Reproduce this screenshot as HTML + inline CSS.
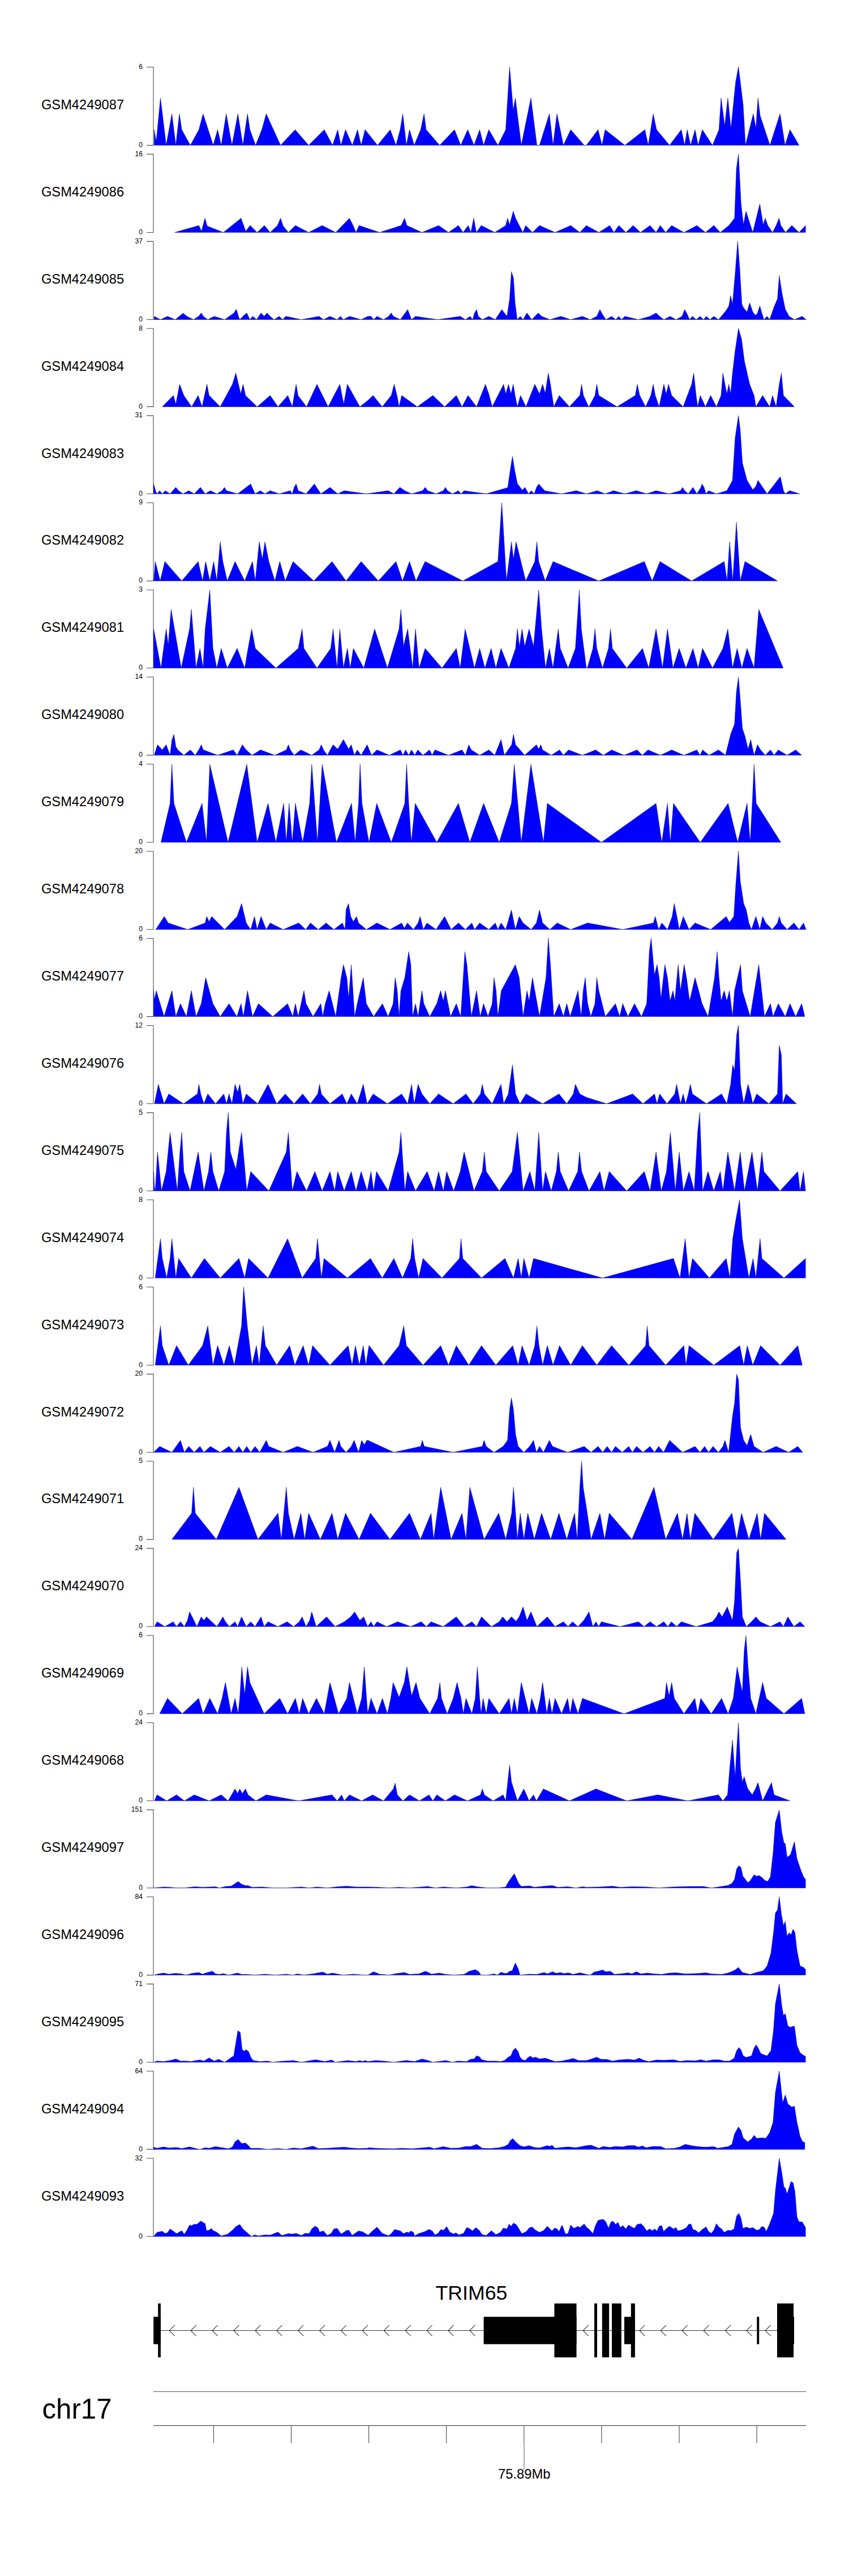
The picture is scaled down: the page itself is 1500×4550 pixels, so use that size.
<!DOCTYPE html><html><head><meta charset="utf-8"><style>html,body{margin:0;padding:0;background:#fff;}svg{display:block;}text{font-family:"Liberation Sans",sans-serif;}</style></head><body>
<svg width="1500" height="4550" viewBox="0 0 1500 4550">
<rect width="1500" height="4550" fill="#fff"/>
<text x="146" y="192.9" font-size="23.7" text-anchor="middle" fill="#000">GSM4249087</text>
<path d="M259.1 118.5 H271 V256.6 H259.1" fill="none" stroke="#4a4a4a" stroke-width="1.1"/>
<text x="252" y="121.8" font-size="12.2" text-anchor="end" fill="#000">6</text>
<text x="252" y="259.9" font-size="12.2" text-anchor="end" fill="#000">0</text>
<path d="M272.4 256.6 L272.4 229.1 L276.1 249.8 L283.5 173.1 L293.6 256.6 L303.7 201.1 L310.6 256.6 L317 201.1 L321.1 229.1 L336.3 256.6 L351.4 229.1 L358.8 201.1 L376.7 256.6 L384.5 229.1 L390.9 256.6 L399.7 201.1 L409.8 256.6 L420.3 201.1 L429.1 256.6 L437.3 201.1 L441.5 229.1 L451.6 256.6 L462.6 229.1 L470.4 201.1 L495.7 256.6 L521.4 229.1 L545.3 256.6 L572.9 229.1 L587.6 256.6 L596.7 229.1 L602.3 256.6 L610.5 229.1 L622.5 256.6 L631.7 229.1 L638.1 256.6 L645 229.1 L667 256.6 L689.5 229.1 L699.6 256.6 L707 229.1 L711.6 201.1 L718 256.6 L723.5 229.1 L731.8 256.6 L743.3 229.1 L749.2 201.1 L752.9 229.1 L776.8 256.6 L803 229.1 L814 256.6 L826.4 229.1 L837.4 256.6 L847.5 229.1 L854.4 256.6 L863.6 229.1 L879.7 256.6 L893.5 229.1 L900.4 118 L906.8 194.7 L910.5 173.1 L921 256.6 L938 173.1 L948.6 256.6 L953.2 256.6 L970.6 201.1 L977.1 256.6 L984 201.1 L995.4 256.6 L1008.3 229.1 L1032.2 256.6 L1036 256.6 L1056.7 229.1 L1063.6 256.6 L1069.1 229.1 L1104 256.6 L1139.4 229.1 L1145.3 256.6 L1154.1 201.1 L1160 229.1 L1183 256.6 L1203.7 229.1 L1209.6 256.6 L1214.2 229.1 L1220.2 256.6 L1228 229.1 L1233.5 256.6 L1240.9 229.1 L1258.8 256.6 L1270.3 229.1 L1274 173.1 L1280.4 222.2 L1285.9 173.1 L1291.4 226.8 L1299.7 145.1 L1304.7 118 L1313 185.5 L1317.1 256.6 L1330.9 201.1 L1335.5 226.8 L1339.2 173.1 L1342.9 203.9 L1360.3 256.6 L1378.2 201.1 L1387 256.6 L1395.7 229.1 L1411.8 256.6 L1411.8 256.6 Z" fill="#0000ff" stroke="#000090" stroke-width="0.5" stroke-linejoin="miter"/>
<text x="146" y="346.9" font-size="23.7" text-anchor="middle" fill="#000">GSM4249086</text>
<path d="M259.1 272.4 H271 V410.5 H259.1" fill="none" stroke="#4a4a4a" stroke-width="1.1"/>
<text x="252" y="275.8" font-size="12.2" text-anchor="end" fill="#000">16</text>
<text x="252" y="413.8" font-size="12.2" text-anchor="end" fill="#000">0</text>
<path d="M308.7 410.5 L308.7 410.5 L351.4 398.3 L356 408.4 L362 385.4 L366.1 399.2 L394.6 410.5 L425.9 385.4 L434.1 408.4 L441.9 398.3 L454.3 410.5 L467.2 398.3 L477.3 410.5 L490.2 398.3 L495.7 385.4 L500.3 399.2 L509.5 410.5 L521.9 398.3 L545.3 410.5 L569.2 398.3 L593.1 410.5 L617.4 385.4 L624.3 399.2 L628.9 410.5 L634.4 398.3 L670.7 410.5 L708.8 398.3 L714.8 385.4 L718.9 398.3 L745.5 410.5 L774.9 398.3 L792.4 410.5 L809.9 398.3 L818.1 410.5 L827.3 398.3 L831.9 410.5 L837 385.4 L841.6 410.5 L850.3 398.3 L874.2 410.5 L893.5 398.3 L896.7 385.4 L900.4 396.9 L906.8 373 L910.9 385.4 L923.8 410.5 L928.8 398.3 L940.8 410.5 L953.2 398.3 L980.7 410.5 L1008.3 398.3 L1024.4 410.5 L1036 398.3 L1058 410.5 L1077.3 398.3 L1084.7 410.5 L1093.4 398.3 L1105.8 410.5 L1118.7 398.3 L1131.5 410.5 L1148.5 398.3 L1159.1 410.5 L1166.5 398.3 L1176.1 410.5 L1186.7 398.3 L1208.3 410.5 L1231.2 398.3 L1246.4 410.5 L1261.1 398.3 L1272.6 410.5 L1287.7 398.3 L1297.8 385.4 L1301.1 298.2 L1304.7 272 L1309.3 360.2 L1313.5 396.9 L1318 373 L1330 410.5 L1342.4 360.2 L1348.4 396.9 L1352 385.4 L1356.6 398.3 L1364.9 410.5 L1371.3 398.3 L1376.4 385.4 L1379.6 398.3 L1387.9 410.5 L1398.9 398.3 L1411.8 410.5 L1423.2 398.3 L1423.2 410.5 Z" fill="#0000ff" stroke="#000090" stroke-width="0.5" stroke-linejoin="miter"/>
<text x="146" y="500.8" font-size="23.7" text-anchor="middle" fill="#000">GSM4249085</text>
<path d="M259.1 426.4 H271 V564.5 H259.1" fill="none" stroke="#4a4a4a" stroke-width="1.1"/>
<text x="252" y="429.7" font-size="12.2" text-anchor="end" fill="#000">37</text>
<text x="252" y="567.8" font-size="12.2" text-anchor="end" fill="#000">0</text>
<path d="M272.4 564.5 L272.4 558.7 L283.5 564.5 L295.9 558.7 L309.6 564.5 L323.4 553.2 L330.3 558.7 L341.8 564.5 L351 558.7 L355.6 552.8 L359.3 558.7 L367.1 564.5 L378.5 558.7 L396.9 564.5 L413 553.2 L417.6 546.3 L421.3 558.7 L423.6 564.5 L429.1 558.7 L436 552.8 L441.5 564.5 L446.5 558.7 L453.4 564.5 L461.2 552.8 L466.7 558.7 L471.8 552.8 L477.3 558.7 L484.2 564.5 L493.4 558.7 L499.4 564.5 L504.9 558.7 L532.4 564.5 L563.7 558.7 L571.5 564.5 L583 558.7 L595.8 564.5 L601.3 558.7 L606.8 564.5 L617.4 558.7 L638.1 564.5 L650 558.7 L655.5 558.7 L660.1 564.5 L666.1 558.7 L677.6 564.5 L686.7 558.7 L691.3 552.8 L695 558.7 L707.4 564.5 L720.3 546.8 L727.2 564.5 L734.1 558.7 L773.1 564.5 L813.1 558.7 L822.3 564.5 L830.5 558.7 L835.1 564.5 L838.3 553.2 L842 546.8 L845.2 558.7 L852.1 564.5 L863.6 558.7 L875.1 564.5 L886.6 546.8 L895.8 558.7 L900.4 528 L903.6 479.7 L907.2 491.2 L910 534.8 L913.7 564.5 L919.2 558.7 L924.2 564.5 L931.1 552.8 L939.4 564.5 L950.9 552.8 L956.9 558.7 L971.6 564.5 L990.8 558.7 L1008.3 564.5 L1029 558.7 L1042.9 564.5 L1054.4 558.7 L1059.9 546.8 L1064.5 555.5 L1070.5 564.5 L1080.6 558.7 L1087.9 564.5 L1093.4 558.7 L1098 564.5 L1104 558.7 L1127.9 564.5 L1148.5 558.7 L1159.1 552.8 L1165.5 558.7 L1172.9 564.5 L1183.9 558.7 L1194.5 564.5 L1205 558.7 L1209.6 546.8 L1213.3 553.2 L1218.4 564.5 L1223.4 558.7 L1229.9 564.5 L1237.2 558.7 L1242.7 564.5 L1248.2 558.7 L1254.2 564.5 L1261.1 558.7 L1269.4 564.5 L1277.2 555.5 L1284.1 546.8 L1287.7 540.4 L1290.9 522 L1294.2 537.1 L1298.8 484.3 L1303.3 426 L1307 475.1 L1310.7 537.1 L1313.9 544 L1319.9 550.9 L1324.5 534.8 L1330 550.9 L1334.6 556.9 L1338.3 553.2 L1342.4 540.4 L1346.1 553.2 L1349.7 564.5 L1355.3 558.7 L1359.9 564.5 L1367.7 541.7 L1373.6 528 L1376.8 486.6 L1381.4 516.5 L1387.4 546.3 L1394.3 558.7 L1403.5 564.5 L1417.3 558.7 L1424.2 564.5 L1424.2 564.5 Z" fill="#0000ff" stroke="#000090" stroke-width="0.5" stroke-linejoin="miter"/>
<text x="146" y="654.6" font-size="23.7" text-anchor="middle" fill="#000">GSM4249084</text>
<path d="M259.1 580.2 H271 V718.4 H259.1" fill="none" stroke="#4a4a4a" stroke-width="1.1"/>
<text x="252" y="583.5" font-size="12.2" text-anchor="end" fill="#000">8</text>
<text x="252" y="721.6" font-size="12.2" text-anchor="end" fill="#000">0</text>
<path d="M286.7 718.4 L286.7 718.4 L306.4 698.5 L310.6 714.1 L317.4 678.7 L324.8 698.5 L338.6 718.4 L350.1 698.5 L357 718.4 L365.7 678.7 L369.4 698.5 L389.1 718.4 L410.7 678.7 L416.7 659 L425.4 695.7 L429.5 678.7 L433.7 698.5 L454.3 718.4 L477.3 698.5 L491.1 718.4 L508.5 698.5 L516.4 718.4 L523.2 678.7 L526.5 698.5 L541.6 718.4 L560 678.7 L579.7 718.4 L600.4 678.7 L607.3 714.1 L613.7 678.7 L635.8 718.4 L650 707.2 L659.2 698.5 L675.3 718.4 L691.3 698.5 L696.4 678.7 L701.4 698.5 L705.1 718.4 L709.7 698.5 L737.3 718.4 L764.8 698.5 L785.5 718.4 L806.2 698.5 L816.3 718.4 L826.9 698.5 L842 718.4 L857.6 678.7 L863.6 695.7 L869.6 718.4 L889.8 678.7 L893.5 695.7 L898.5 678.7 L902.7 695.7 L906.8 678.7 L910 698.5 L914.1 718.4 L919.6 698.5 L929.3 718.4 L944.9 678.7 L953.2 695.7 L958.7 678.7 L963.3 694.4 L968.8 659 L972.5 678.7 L978.4 718.4 L988.1 698.5 L1006 718.4 L1024.4 698.5 L1027.6 678.7 L1030.8 698.5 L1040 718.4 L1040.6 718.4 L1051.2 698.5 L1054.4 678.7 L1058 698.5 L1090.2 718.4 L1122.4 698.5 L1126 678.7 L1130.2 698.5 L1140.7 718.4 L1149.9 698.5 L1154.1 678.7 L1157.7 698.5 L1164.6 718.4 L1172.9 678.7 L1177 695.7 L1181.2 678.7 L1186.7 698.5 L1206.9 718.4 L1222 678.7 L1225.7 659 L1229.9 698.5 L1232.6 718.4 L1237.2 698.5 L1246.4 718.4 L1255.6 698.5 L1265.7 718.4 L1274 698.5 L1277.2 659 L1284.1 695.7 L1287.7 678.7 L1290.9 695.7 L1294.2 659 L1298.8 619.9 L1304.7 580 L1310.2 599.3 L1315.3 638.3 L1324.5 678.7 L1332.3 698.5 L1335.5 718.4 L1347.4 698.5 L1359.9 718.4 L1364.9 698.5 L1371.3 718.4 L1376.8 678.7 L1380.5 659 L1384.2 698.5 L1403.5 718.4 L1403.5 718.4 Z" fill="#0000ff" stroke="#000090" stroke-width="0.5" stroke-linejoin="miter"/>
<text x="146" y="808.5" font-size="23.7" text-anchor="middle" fill="#000">GSM4249083</text>
<path d="M259.1 734.1 H271 V872.2 H259.1" fill="none" stroke="#4a4a4a" stroke-width="1.1"/>
<text x="252" y="737.4" font-size="12.2" text-anchor="end" fill="#000">31</text>
<text x="252" y="875.5" font-size="12.2" text-anchor="end" fill="#000">0</text>
<path d="M271.5 872.2 L271.5 854.8 L275.2 868.1 L277.5 872.2 L282.1 866.7 L286.7 872.2 L292.2 866.7 L300.5 872.2 L310.6 860.8 L315.6 866.7 L323.4 872.2 L333.5 866.7 L343.2 872.2 L354.2 860.8 L362.5 872.2 L371.7 866.7 L383.1 872.2 L392.3 866.7 L396.5 860.8 L400.1 866.7 L419.9 872.2 L442.9 854.8 L450.7 872.2 L459.9 866.7 L468.1 872.2 L477.3 866.7 L493.4 872.2 L512.7 866.7 L516.4 872.2 L519.6 861.2 L523.2 854.8 L526.9 866.7 L540.7 872.2 L555.4 854.8 L566.9 872.2 L574.7 866.7 L583 860.8 L589.9 866.7 L596.7 872.2 L608.2 866.7 L647.3 872.2 L685.8 866.7 L695.9 872.2 L706.5 860.8 L715.2 866.7 L727.2 872.2 L746.5 866.7 L751.1 860.8 L755.7 866.7 L770.4 872.2 L783.2 866.7 L786.9 860.8 L790.6 866.7 L799.3 872.2 L809.9 866.7 L814.5 872.2 L820 866.7 L859 872.2 L897.1 861.2 L901.7 829.1 L905.4 806.1 L909.5 831.4 L914.1 854.3 L922.9 865.8 L927.5 860.8 L933.9 872.2 L938.5 866.7 L944 872.2 L947.7 861.2 L951.8 854.8 L962.4 866.7 L992.2 872.2 L1018.4 866.7 L1035.9 872.2 L1055.3 866.7 L1069.1 872.2 L1084.2 866.7 L1104 872.2 L1124.2 866.7 L1142.6 872.2 L1159.1 866.7 L1182.1 872.2 L1202.3 866.7 L1206 860.8 L1209.6 866.7 L1216.1 872.2 L1224.3 860.8 L1231.2 872.2 L1238.1 861.2 L1240.4 854.8 L1244.1 861.2 L1247.3 872.2 L1251.9 866.7 L1265.7 872.2 L1284.1 866.7 L1294.2 848.4 L1298.8 773.9 L1304.7 734 L1307.9 760.2 L1311.6 817.6 L1319.9 848.4 L1330 864.9 L1335.5 858.9 L1339.2 848.4 L1355.3 872.2 L1373.6 848.4 L1378.7 841.9 L1384.2 866.7 L1387.4 872.2 L1395.2 866.7 L1412.7 872.2 L1412.7 872.2 Z" fill="#0000ff" stroke="#000090" stroke-width="0.5" stroke-linejoin="miter"/>
<text x="146" y="962.4" font-size="23.7" text-anchor="middle" fill="#000">GSM4249082</text>
<path d="M259.1 888 H271 V1026.1 H259.1" fill="none" stroke="#4a4a4a" stroke-width="1.1"/>
<text x="252" y="891.3" font-size="12.2" text-anchor="end" fill="#000">9</text>
<text x="252" y="1029.4" font-size="12.2" text-anchor="end" fill="#000">0</text>
<path d="M271.5 1026.1 L271.5 1026.1 L274.3 991.8 L283 1026.1 L291.3 991.8 L321.1 1026.1 L350.1 991.8 L357.9 1026.1 L363.4 991.8 L370.7 1026.1 L377.6 991.8 L383.1 1026.1 L389.1 956.9 L393.7 991.8 L401.5 1026.1 L415.3 991.8 L432.3 1026.1 L446.1 991.8 L451.1 1026.1 L458 956.9 L463.5 987.7 L468.1 956.9 L475 991.8 L485.6 1026.1 L494.3 991.8 L504 1026.1 L517.7 991.8 L554.5 1026.1 L586.6 991.8 L611.4 1026.1 L638.1 991.8 L668.4 1026.1 L699.6 991.8 L711.1 1026.1 L723.5 991.8 L735 1026.1 L751.1 991.8 L817.7 1026.1 L879.7 991.8 L886.6 888 L894.8 1026.1 L903.6 956.9 L907.2 987.7 L911.8 956.9 L928.8 1026.1 L944.9 991.8 L948.6 956.9 L951.8 991.8 L963.3 1026.1 L977.1 991.8 L1058 1026.1 L1138.4 991.8 L1152.2 1026.1 L1166 991.8 L1222 1026.1 L1279.5 991.8 L1284.5 1026.1 L1289.1 956.9 L1294.6 1026.1 L1301.1 922.4 L1307.9 1026.1 L1316.2 991.8 L1373.6 1026.1 L1373.6 1026.1 Z" fill="#0000ff" stroke="#000090" stroke-width="0.5" stroke-linejoin="miter"/>
<text x="146" y="1116.4" font-size="23.7" text-anchor="middle" fill="#000">GSM4249081</text>
<path d="M259.1 1042 H271 V1180 H259.1" fill="none" stroke="#4a4a4a" stroke-width="1.1"/>
<text x="252" y="1045.2" font-size="12.2" text-anchor="end" fill="#000">3</text>
<text x="252" y="1183.3" font-size="12.2" text-anchor="end" fill="#000">0</text>
<path d="M271.5 1180 L271.5 1180 L271.5 1110.9 L284.4 1180 L293.6 1110.9 L297.2 1139.4 L302.3 1076.4 L320.2 1180 L334.9 1110.9 L338.1 1076.4 L346.4 1180 L353.3 1145.3 L358.8 1180 L362.5 1110.9 L370.7 1042 L376.2 1145.3 L383.1 1180 L390.9 1145.3 L401.5 1180 L419 1145.3 L432.3 1180 L438.3 1145.3 L444.7 1110.9 L451.1 1145.3 L487.4 1180 L526.9 1145.3 L533.8 1110.9 L537 1145.3 L560 1180 L584.3 1145.3 L588.5 1110.9 L595.4 1180 L600.4 1110.9 L606.8 1180 L613.7 1145.3 L618.8 1180 L624.3 1145.3 L642.7 1180 L661.9 1110.9 L684.5 1180 L705.1 1110.9 L708.3 1076.4 L712.9 1141.7 L720.3 1110.9 L729 1180 L734.1 1110.9 L740.5 1180 L751.1 1145.3 L780.9 1180 L806.2 1145.3 L813.1 1180 L821.8 1110.9 L838.3 1180 L847.5 1145.3 L856.7 1180 L867.7 1145.3 L876 1180 L885.2 1145.3 L899 1180 L910.9 1145.3 L914.1 1110.9 L917.8 1141.7 L922.4 1110.9 L927 1141.7 L934.8 1110.9 L942.6 1141.7 L951.8 1042 L956.9 1110.9 L963.7 1180 L970.6 1145.3 L977.1 1180 L986.3 1110.9 L989.9 1145.3 L1003.7 1180 L1016.6 1145.3 L1023.5 1042 L1027.1 1110.9 L1036 1180 L1037.7 1180 L1047.5 1145.3 L1051.2 1110.9 L1054.4 1145.3 L1064.5 1180 L1075 1145.3 L1078.7 1110.9 L1081.9 1145.3 L1107.2 1180 L1135.2 1145.3 L1146.2 1180 L1159.1 1110.9 L1170.6 1180 L1179.3 1110.9 L1189 1180 L1200 1145.3 L1211.9 1180 L1224.3 1145.3 L1233.5 1180 L1241.3 1145.3 L1258.8 1180 L1277.2 1145.3 L1285.9 1110.9 L1294.2 1180 L1302.4 1145.3 L1310.7 1180 L1319.9 1145.3 L1332.3 1180 L1340.6 1076.4 L1383.7 1180 L1383.7 1180 Z" fill="#0000ff" stroke="#000090" stroke-width="0.5" stroke-linejoin="miter"/>
<text x="146" y="1270.2" font-size="23.7" text-anchor="middle" fill="#000">GSM4249080</text>
<path d="M259.1 1195.8 H271 V1333.9 H259.1" fill="none" stroke="#4a4a4a" stroke-width="1.1"/>
<text x="252" y="1199.1" font-size="12.2" text-anchor="end" fill="#000">14</text>
<text x="252" y="1337.2" font-size="12.2" text-anchor="end" fill="#000">0</text>
<path d="M272.4 1333.9 L272.4 1333.9 L278.4 1315.4 L286.7 1324.6 L293.6 1315.4 L300.5 1333.9 L303.7 1307.1 L307.3 1297 L310.6 1318.6 L314.2 1324.6 L324.8 1333.9 L336.3 1324.6 L345 1333.9 L351.9 1323.2 L355.6 1315.4 L359.3 1324.6 L384.5 1333.9 L412.1 1324.6 L419 1333.9 L428.2 1315.4 L435 1324.6 L445.2 1333.9 L460.3 1324.6 L485.6 1333.9 L505.8 1324.6 L509.5 1315.4 L513.1 1324.6 L519.6 1333.9 L531.5 1324.6 L550.8 1333.9 L563.7 1324.6 L567.8 1315.4 L571.5 1324.6 L578.4 1333.9 L588.5 1315.4 L596.7 1323.2 L606.8 1306.2 L616 1323.2 L620.6 1315.4 L626.1 1333.9 L631.2 1324.6 L638.1 1333.9 L648.7 1315.4 L656.4 1333.9 L666.1 1324.6 L687.7 1333.9 L707.4 1324.6 L712 1333.9 L716.6 1324.6 L722.1 1333.9 L727.2 1324.6 L732.7 1333.9 L738.2 1324.6 L747.4 1333.9 L758.9 1324.6 L763.5 1333.9 L768.5 1324.6 L792.4 1333.9 L816.3 1324.6 L822.3 1333.9 L828.2 1315.4 L832.8 1324.6 L847.5 1333.9 L863.6 1324.6 L874.2 1333.9 L885.2 1306.2 L891.2 1333.9 L904 1315.4 L907.2 1297 L910.9 1315.4 L927 1333.9 L947.7 1315.4 L951.8 1323.2 L955.5 1315.4 L958.7 1324.6 L973.9 1333.9 L988.6 1324.6 L995.4 1333.9 L1004.6 1324.6 L1029 1333.9 L1052.5 1324.6 L1065.9 1333.9 L1080.6 1324.6 L1102.6 1333.9 L1125.6 1324.6 L1134.8 1333.9 L1144.9 1324.6 L1166.9 1333.9 L1186.7 1324.6 L1208.3 1333.9 L1231.2 1324.6 L1236.7 1333.9 L1241.3 1324.6 L1252.8 1333.9 L1269.4 1324.6 L1281.8 1333.9 L1290.9 1297 L1297.8 1278.7 L1301.1 1222.2 L1304.7 1196 L1307.9 1235.9 L1311.6 1286.5 L1316.2 1300.2 L1321.7 1323.2 L1326.3 1306.2 L1332.3 1333.9 L1338.3 1315.4 L1343.8 1324.6 L1352 1333.9 L1361.2 1324.6 L1367.7 1333.9 L1375 1324.6 L1390.6 1333.9 L1405.8 1324.6 L1416.4 1333.9 L1416.4 1333.9 Z" fill="#0000ff" stroke="#000090" stroke-width="0.5" stroke-linejoin="miter"/>
<text x="146" y="1424.2" font-size="23.7" text-anchor="middle" fill="#000">GSM4249079</text>
<path d="M259.1 1349.8 H271 V1487.8 H259.1" fill="none" stroke="#4a4a4a" stroke-width="1.1"/>
<text x="252" y="1353" font-size="12.2" text-anchor="end" fill="#000">4</text>
<text x="252" y="1491.1" font-size="12.2" text-anchor="end" fill="#000">0</text>
<path d="M284.4 1487.8 L284.4 1487.8 L300.5 1418.9 L303.7 1350 L307.3 1418.9 L329.4 1487.8 L357 1418.9 L364.8 1487.8 L370.7 1350 L402.9 1487.8 L436 1350 L454.3 1487.8 L473.6 1418.9 L487.4 1487.8 L501.2 1418.9 L505.8 1487.8 L510.8 1418.9 L516.4 1487.8 L521.9 1418.9 L534.7 1487.8 L547.1 1418.9 L550.8 1350 L560.9 1487.8 L569.2 1350 L594.4 1487.8 L621.1 1418.9 L627.5 1487.8 L633.5 1418.9 L636.2 1350 L639.5 1418.9 L651.9 1487.8 L665.6 1418.9 L691.3 1487.8 L715.2 1418.9 L718.4 1350 L722.1 1418.9 L726.7 1487.8 L733.6 1418.9 L771.7 1487.8 L809.9 1418.9 L830.1 1487.8 L854.4 1418.9 L882 1487.8 L903.6 1418.9 L908.6 1350 L921 1487.8 L938 1350 L960.1 1487.8 L967 1418.9 L1062.6 1487.8 L1159.1 1418.9 L1169.2 1487.8 L1179.3 1418.9 L1184.4 1487.8 L1189.9 1418.9 L1237.2 1487.8 L1286.4 1418.9 L1303.3 1487.8 L1319.9 1418.9 L1325.4 1487.8 L1329.1 1418.9 L1332.3 1350 L1336 1418.9 L1379.6 1487.8 L1379.6 1487.8 Z" fill="#0000ff" stroke="#000090" stroke-width="0.5" stroke-linejoin="miter"/>
<text x="146" y="1578.1" font-size="23.7" text-anchor="middle" fill="#000">GSM4249078</text>
<path d="M259.1 1503.7 H271 V1641.8 H259.1" fill="none" stroke="#4a4a4a" stroke-width="1.1"/>
<text x="252" y="1507" font-size="12.2" text-anchor="end" fill="#000">20</text>
<text x="252" y="1645" font-size="12.2" text-anchor="end" fill="#000">0</text>
<path d="M275.2 1641.8 L275.2 1641.8 L290.3 1618.7 L297.2 1630.2 L331.7 1641.8 L362.5 1630.2 L365.2 1618.7 L369.4 1627.9 L374 1618.7 L396.9 1641.8 L419 1618.7 L426.8 1595.8 L435 1630.2 L442.9 1641.8 L449.7 1618.7 L454.3 1641.8 L461.2 1618.7 L465.8 1630.2 L470.4 1641.8 L477.3 1630.2 L500.3 1641.8 L527.8 1630.2 L540.2 1641.8 L548.5 1630.2 L562.3 1641.8 L576.1 1630.2 L589.9 1641.8 L605 1630.2 L609.6 1641.8 L611.4 1607.2 L615.6 1595.8 L619.7 1618.7 L624.3 1627.9 L629.8 1618.7 L633.5 1630.2 L647.3 1641.8 L666.1 1630.2 L689 1641.8 L709.7 1630.2 L714.3 1639.4 L719.8 1630.2 L730.4 1641.8 L738.7 1630.2 L742.3 1618.7 L747.8 1641.8 L754.3 1630.2 L770.4 1641.8 L785.5 1618.7 L797 1641.8 L809.9 1630.2 L822.3 1641.8 L833.7 1630.2 L838.3 1641.8 L847.5 1630.2 L863.6 1641.8 L875.1 1630.2 L879.7 1641.8 L885.2 1630.2 L893.5 1641.8 L903.6 1607.2 L910.5 1641.8 L917.3 1618.7 L924.2 1630.2 L938.5 1641.8 L947.7 1630.2 L953.2 1607.2 L958.7 1630.2 L971.6 1641.8 L984.4 1630.2 L1008.3 1641.8 L1038.3 1630.2 L1100.3 1641.8 L1154.5 1630.2 L1157.7 1618.7 L1163.7 1641.8 L1169.2 1630.2 L1179.3 1641.8 L1187.6 1618.7 L1191.3 1595.8 L1195.9 1618.7 L1200 1641.8 L1207.3 1618.7 L1217.4 1641.8 L1228 1630.2 L1255.6 1641.8 L1283.1 1618.7 L1288.7 1629.3 L1296.5 1618.7 L1300.1 1561.3 L1304.7 1503 L1307.9 1556.7 L1313.9 1595.8 L1318.5 1607.2 L1323.1 1630.2 L1327.7 1641.8 L1335.5 1618.7 L1342.4 1641.8 L1347.4 1618.7 L1353 1630.2 L1364.4 1641.8 L1373.6 1630.2 L1376.8 1618.7 L1380.5 1630.2 L1390.6 1641.8 L1402.6 1630.2 L1411.8 1641.8 L1419.6 1630.2 L1424.2 1641.8 L1424.2 1641.8 Z" fill="#0000ff" stroke="#000090" stroke-width="0.5" stroke-linejoin="miter"/>
<text x="146" y="1732" font-size="23.7" text-anchor="middle" fill="#000">GSM4249077</text>
<path d="M259.1 1657.5 H271 V1795.6 H259.1" fill="none" stroke="#4a4a4a" stroke-width="1.1"/>
<text x="252" y="1660.8" font-size="12.2" text-anchor="end" fill="#000">6</text>
<text x="252" y="1798.9" font-size="12.2" text-anchor="end" fill="#000">0</text>
<path d="M271.5 1795.6 L271.5 1795.6 L271.5 1749.8 L272.9 1765.8 L276.1 1749.8 L289.9 1795.6 L303.7 1749.8 L310.6 1795.6 L318.8 1772.7 L329.4 1795.6 L338.1 1749.8 L346.4 1795.6 L355.6 1772.7 L363.4 1726.8 L376.2 1772.7 L389.1 1795.6 L404.7 1772.7 L418.5 1795.6 L425.9 1772.7 L430 1795.6 L437.3 1749.8 L446.1 1795.6 L456.6 1772.7 L481.9 1795.6 L508.1 1772.7 L517.3 1795.6 L521.9 1772.7 L526.9 1795.6 L537 1749.8 L540.7 1772.7 L553.1 1795.6 L566.9 1772.7 L570.1 1795.6 L574.7 1772.7 L581.6 1749.8 L593.1 1795.6 L602.7 1726.8 L606.8 1703.8 L612.8 1726.8 L616 1763.5 L620.6 1703.8 L626.6 1795.6 L631.2 1772.7 L641.8 1726.8 L647.3 1772.7 L660.1 1795.6 L675.7 1772.7 L685.8 1795.6 L694.6 1772.7 L698.2 1726.8 L701.9 1749.8 L705.1 1795.6 L708.3 1749.8 L715.2 1726.8 L722.1 1680.9 L725.8 1703.8 L729 1795.6 L734.1 1772.7 L738.7 1795.6 L745.5 1749.8 L748.8 1772.7 L759.3 1795.6 L771.7 1772.7 L778.6 1749.8 L783.2 1768.1 L786.9 1749.8 L796.1 1795.6 L806.2 1772.7 L814 1795.6 L821.3 1680.9 L825 1703.8 L832.8 1795.6 L842 1749.8 L848.4 1795.6 L854.4 1772.7 L862.2 1795.6 L869.6 1772.7 L872.8 1726.8 L876.5 1749.8 L879.7 1795.6 L885.7 1749.8 L910.5 1703.8 L917.3 1726.8 L924.2 1795.6 L931.1 1749.8 L934.8 1768.1 L940.8 1726.8 L953.2 1795.6 L964.7 1726.8 L968.8 1657 L972.5 1703.8 L978.4 1795.6 L988.1 1772.7 L995.4 1795.6 L1001.4 1772.7 L1007.4 1795.6 L1021.2 1749.8 L1026.7 1795.6 L1030.4 1749.8 L1034 1726.8 L1036 1749.8 L1038.3 1772.7 L1043.8 1795.6 L1051.2 1772.7 L1054.4 1726.8 L1058 1749.8 L1069.5 1795.6 L1087.4 1772.7 L1094.8 1795.6 L1100.3 1772.7 L1109.5 1795.6 L1121 1772.7 L1133.4 1795.6 L1142.6 1772.7 L1147.2 1680.9 L1150.4 1657 L1156.4 1722.2 L1160.9 1703.8 L1164.6 1726.8 L1167.8 1763.5 L1174.7 1703.8 L1179.3 1726.8 L1183.9 1768.1 L1189 1749.8 L1192.2 1768.1 L1198.2 1703.8 L1202.3 1749.8 L1208.7 1703.8 L1212.9 1726.8 L1218.4 1768.1 L1228 1726.8 L1234.4 1749.8 L1240.4 1772.7 L1251 1795.6 L1262.5 1726.8 L1267.1 1680.9 L1270.3 1726.8 L1274 1768.1 L1279.5 1749.8 L1284.1 1768.1 L1288.7 1749.8 L1294.2 1795.6 L1297.8 1749.8 L1308.4 1703.8 L1311.6 1749.8 L1325.4 1795.6 L1340.6 1703.8 L1350.7 1795.6 L1361.2 1772.7 L1365.8 1795.6 L1375 1772.7 L1387.4 1795.6 L1395.7 1772.7 L1405.8 1795.6 L1416.4 1772.7 L1421.9 1795.6 L1421.9 1795.6 Z" fill="#0000ff" stroke="#000090" stroke-width="0.5" stroke-linejoin="miter"/>
<text x="146" y="1885.9" font-size="23.7" text-anchor="middle" fill="#000">GSM4249076</text>
<path d="M259.1 1811.5 H271 V1949.5 H259.1" fill="none" stroke="#4a4a4a" stroke-width="1.1"/>
<text x="252" y="1814.8" font-size="12.2" text-anchor="end" fill="#000">12</text>
<text x="252" y="1952.8" font-size="12.2" text-anchor="end" fill="#000">0</text>
<path d="M272.9 1949.5 L272.9 1949.5 L279.8 1915.2 L289.9 1949.5 L298.2 1932.2 L324.3 1949.5 L348.7 1932.2 L351.4 1915.2 L354.7 1932.2 L360.2 1949.5 L367.1 1932.2 L380.8 1949.5 L395.5 1932.2 L400.1 1949.5 L404.7 1932.2 L409.8 1949.5 L415.3 1915.2 L419.9 1929 L423.6 1915.2 L429.1 1949.5 L435 1932.2 L455.3 1949.5 L473.6 1915.2 L488.8 1949.5 L504 1932.2 L519.6 1949.5 L534.7 1932.2 L548.5 1949.5 L561.4 1932.2 L564.6 1915.2 L567.8 1932.2 L583 1949.5 L604.6 1932.2 L612.8 1949.5 L620.6 1932.2 L631.2 1949.5 L641.8 1915.2 L648.7 1949.5 L659.2 1932.2 L684.5 1949.5 L709.7 1932.2 L720.3 1949.5 L727.2 1915.2 L731.8 1949.5 L738.7 1915.2 L745.5 1932.2 L759.3 1949.5 L774.9 1932.2 L800.7 1949.5 L823.2 1932.2 L836 1949.5 L848.9 1932.2 L852.1 1915.2 L855.8 1932.2 L869.6 1949.5 L885.2 1915.2 L889.8 1949.5 L898.1 1932.2 L905.4 1880.8 L910.9 1932.2 L918.7 1949.5 L929.3 1932.2 L958.7 1949.5 L987.6 1932.2 L1001.4 1949.5 L1012.9 1932.2 L1016.6 1915.2 L1024.4 1932.2 L1036 1938.2 L1071.8 1949.5 L1117.8 1932.2 L1136.1 1949.5 L1156.4 1932.2 L1160.9 1949.5 L1165.5 1932.2 L1178.4 1949.5 L1192.2 1932.2 L1195.4 1915.2 L1202.3 1949.5 L1206.9 1932.2 L1211.5 1949.5 L1216.1 1932.2 L1219.7 1915.2 L1223.4 1932.2 L1248.2 1949.5 L1274.9 1932.2 L1284.1 1949.5 L1290.9 1915.2 L1294.6 1880.8 L1297.8 1890 L1301.5 1828 L1304.7 1811 L1308.4 1915.2 L1313.9 1949.5 L1321.7 1915.2 L1326.3 1932.2 L1330 1949.5 L1336.9 1932.2 L1358.5 1949.5 L1373.6 1932.2 L1376.8 1846.3 L1380.5 1863.8 L1382.8 1949.5 L1388.8 1932.2 L1407.2 1949.5 L1407.2 1949.5 Z" fill="#0000ff" stroke="#000090" stroke-width="0.5" stroke-linejoin="miter"/>
<text x="146" y="2039.8" font-size="23.7" text-anchor="middle" fill="#000">GSM4249075</text>
<path d="M259.1 1965.4 H271 V2103.5 H259.1" fill="none" stroke="#4a4a4a" stroke-width="1.1"/>
<text x="252" y="1968.7" font-size="12.2" text-anchor="end" fill="#000">5</text>
<text x="252" y="2106.8" font-size="12.2" text-anchor="end" fill="#000">0</text>
<path d="M271.5 2103.5 L271.5 2103.5 L271.5 2069.2 L272.9 2096.8 L274.3 2103.5 L278.4 2034.8 L285.3 2103.5 L293.6 2069.2 L300.5 2000.3 L313.3 2103.5 L317.9 2034.8 L321.1 2000.3 L324.8 2069.2 L335.8 2103.5 L350.1 2034.8 L360.2 2103.5 L368.4 2069.2 L372.6 2034.8 L376.2 2069.2 L386.4 2103.5 L396.9 2069.2 L400.1 2000.3 L403.3 1965 L407 2034.8 L416.7 2065.6 L426.8 2000.3 L436 2103.5 L442.9 2069.2 L475 2103.5 L505.8 2034.8 L509.5 2000.3 L516.4 2103.5 L524.6 2069.2 L541.6 2103.5 L556.3 2069.2 L569.2 2103.5 L583 2069.2 L591.2 2103.5 L596.7 2069.2 L608.2 2103.5 L620.6 2069.2 L628.9 2103.5 L638.1 2069.2 L648.7 2103.5 L655.5 2069.2 L660.1 2103.5 L665.2 2069.2 L685.8 2103.5 L705.1 2034.8 L708.3 2000.3 L715.2 2103.5 L720.3 2069.2 L734.1 2103.5 L754.7 2069.2 L767.1 2103.5 L774.9 2069.2 L783.2 2103.5 L789.2 2069.2 L801.6 2103.5 L813.1 2069.2 L820 2034.8 L837.4 2103.5 L852.1 2069.2 L855.8 2034.8 L859 2069.2 L882 2103.5 L904.9 2069.2 L914.1 2000.3 L924.2 2103.5 L936.2 2069.2 L944.9 2103.5 L951.8 2000.3 L958.7 2103.5 L963.7 2069.2 L973.9 2103.5 L983 2069.2 L986.3 2034.8 L989.9 2069.2 L1004.6 2103.5 L1020.7 2069.2 L1023.9 2034.8 L1027.6 2069.2 L1040.6 2103.5 L1059.9 2069.2 L1067.2 2103.5 L1076.4 2069.2 L1107.2 2103.5 L1138.4 2069.2 L1148.5 2103.5 L1159.1 2034.8 L1168.3 2103.5 L1177.5 2069.2 L1184.4 2000.3 L1193.1 2103.5 L1200 2034.8 L1207.3 2103.5 L1217.4 2069.2 L1226.6 2103.5 L1232.6 2000.3 L1236.3 1965 L1241.3 2103.5 L1251 2069.2 L1261.1 2103.5 L1272.6 2069.2 L1277.2 2103.5 L1285.9 2034.8 L1297.8 2103.5 L1307.9 2034.8 L1315.3 2103.5 L1328.6 2034.8 L1338.3 2103.5 L1346.1 2034.8 L1349.7 2069.2 L1378.2 2103.5 L1409.5 2069.2 L1413.6 2103.5 L1419.6 2069.2 L1423.2 2103.5 L1423.2 2103.5 Z" fill="#0000ff" stroke="#000090" stroke-width="0.5" stroke-linejoin="miter"/>
<text x="146" y="2193.7" font-size="23.7" text-anchor="middle" fill="#000">GSM4249074</text>
<path d="M259.1 2119.2 H271 V2257.3 H259.1" fill="none" stroke="#4a4a4a" stroke-width="1.1"/>
<text x="252" y="2122.6" font-size="12.2" text-anchor="end" fill="#000">8</text>
<text x="252" y="2260.7" font-size="12.2" text-anchor="end" fill="#000">0</text>
<path d="M274.3 2257.3 L274.3 2257.3 L283.5 2187.9 L286.7 2222.8 L294.5 2257.3 L300.5 2222.8 L303.7 2187.9 L310.6 2257.3 L315.6 2222.8 L338.1 2257.3 L361.1 2222.8 L389.1 2257.3 L422.2 2222.8 L432.3 2257.3 L439.2 2222.8 L473.6 2257.3 L508.1 2187.9 L533.8 2257.3 L557.7 2222.8 L560.9 2187.9 L567.8 2257.3 L572.4 2222.8 L613.7 2257.3 L654.6 2222.8 L675.3 2257.3 L695.9 2222.8 L711.1 2257.3 L725.8 2222.8 L729 2187.9 L732.7 2222.8 L739.6 2257.3 L747.4 2222.8 L780.9 2257.3 L811.7 2222.8 L814.5 2187.9 L817.7 2222.8 L850.7 2257.3 L892.1 2222.8 L907.2 2257.3 L915.5 2222.8 L921 2257.3 L925.6 2222.8 L934.8 2257.3 L942.6 2222.8 L1064.5 2257.3 L1189.9 2222.8 L1201.4 2257.3 L1210.6 2187.9 L1217.4 2257.3 L1223.4 2222.8 L1253.3 2257.3 L1283.1 2222.8 L1289.6 2257.3 L1294.6 2187.9 L1300.1 2154.3 L1306.6 2119 L1311.6 2187.9 L1323.1 2257.3 L1330.5 2222.8 L1335.5 2257.3 L1342.9 2187.9 L1346.1 2222.8 L1385.1 2257.3 L1423.2 2222.8 L1423.2 2257.3 Z" fill="#0000ff" stroke="#000090" stroke-width="0.5" stroke-linejoin="miter"/>
<text x="146" y="2347.6" font-size="23.7" text-anchor="middle" fill="#000">GSM4249073</text>
<path d="M259.1 2273.2 H271 V2411.2 H259.1" fill="none" stroke="#4a4a4a" stroke-width="1.1"/>
<text x="252" y="2276.5" font-size="12.2" text-anchor="end" fill="#000">6</text>
<text x="252" y="2414.6" font-size="12.2" text-anchor="end" fill="#000">0</text>
<path d="M274.3 2411.2 L274.3 2411.2 L283.5 2341.9 L286.7 2376.8 L298.2 2411.2 L311.9 2376.8 L332.6 2411.2 L357.9 2376.8 L367.1 2341.9 L376.2 2411.2 L384.5 2376.8 L395.5 2411.2 L405.2 2376.8 L413.9 2411.2 L426.8 2341.9 L430.5 2273 L436.9 2341.9 L445.2 2411.2 L453 2376.8 L458 2411.2 L464.9 2341.9 L469 2376.8 L488.8 2411.2 L511.8 2376.8 L520.9 2411.2 L535.6 2376.8 L545.3 2411.2 L552.2 2376.8 L583 2411.2 L615.1 2376.8 L622 2411.2 L628 2376.8 L634.9 2411.2 L641.8 2376.8 L646.4 2411.2 L651.9 2376.8 L652.3 2376.8 L677.6 2411.2 L705.1 2376.8 L713.4 2341.9 L718 2376.8 L747.4 2411.2 L778.6 2376.8 L792.4 2411.2 L806.2 2376.8 L828.2 2411.2 L850.7 2376.8 L876 2411.2 L905.9 2376.8 L915.5 2411.2 L922.4 2376.8 L934.8 2411.2 L944.9 2376.8 L948.6 2341.9 L952.3 2376.8 L958.7 2411.2 L967 2376.8 L977.1 2411.2 L988.6 2376.8 L1008.3 2411.2 L1029 2376.8 L1054.4 2411.2 L1080.6 2376.8 L1110.9 2411.2 L1140.7 2376.8 L1143.5 2341.9 L1146.7 2376.8 L1176.1 2411.2 L1208.3 2376.8 L1211.9 2411.2 L1217.4 2376.8 L1261.1 2411.2 L1307 2376.8 L1313.9 2411.2 L1320.3 2376.8 L1330 2411.2 L1343.8 2376.8 L1378.2 2411.2 L1409.5 2376.8 L1417.3 2411.2 L1417.3 2411.2 Z" fill="#0000ff" stroke="#000090" stroke-width="0.5" stroke-linejoin="miter"/>
<text x="146" y="2501.5" font-size="23.7" text-anchor="middle" fill="#000">GSM4249072</text>
<path d="M259.1 2427.1 H271 V2565.2 H259.1" fill="none" stroke="#4a4a4a" stroke-width="1.1"/>
<text x="252" y="2430.4" font-size="12.2" text-anchor="end" fill="#000">20</text>
<text x="252" y="2568.5" font-size="12.2" text-anchor="end" fill="#000">0</text>
<path d="M271.5 2565.2 L271.5 2565.2 L282.1 2554.7 L303.7 2565.2 L318.8 2544.1 L325.7 2565.2 L333.5 2554.7 L343.2 2565.2 L353.3 2554.7 L360.2 2565.2 L371.7 2554.7 L389.1 2565.2 L404.7 2554.7 L413.9 2565.2 L422.2 2554.7 L429.1 2565.2 L436 2554.7 L442.9 2565.2 L450.7 2554.7 L458.9 2565.2 L470.4 2544.1 L475 2554.7 L500.3 2565.2 L525.5 2554.7 L553.1 2565.2 L578.4 2554.7 L583 2544.1 L591.2 2565.2 L599 2544.1 L602.3 2554.7 L611.4 2565.2 L620.6 2554.7 L625.7 2544.1 L633.5 2565.2 L639 2544.1 L643.6 2551.9 L648.2 2544.1 L650 2544.1 L695.9 2565.2 L743.3 2554.7 L746 2544.1 L749.7 2554.7 L800.7 2565.2 L852.1 2554.7 L855.3 2544.1 L859 2554.7 L872.8 2565.2 L888.9 2554.7 L896.7 2544.1 L900.4 2489.9 L903.6 2469.2 L907.2 2489.9 L910.9 2533.5 L915.5 2554.7 L925.6 2565.2 L935.7 2554.7 L942.6 2544.1 L947.7 2565.2 L953.2 2554.7 L960.1 2565.2 L970.6 2544.1 L976.1 2554.7 L1002.8 2565.2 L1032.2 2554.7 L1044.3 2565.2 L1056.7 2554.7 L1064.9 2565.2 L1072.7 2554.7 L1080.6 2565.2 L1087.4 2554.7 L1099.4 2565.2 L1110.9 2554.7 L1117.3 2565.2 L1124.7 2554.7 L1136.1 2565.2 L1148.5 2554.7 L1156.4 2565.2 L1163.7 2554.7 L1172.4 2565.2 L1183 2544.1 L1206 2565.2 L1228 2554.7 L1236.7 2565.2 L1245 2554.7 L1251.9 2565.2 L1259.7 2554.7 L1269.4 2565.2 L1277.2 2554.7 L1280.8 2544.1 L1287.3 2565.2 L1294.2 2501.4 L1297.8 2478.4 L1301.5 2427 L1304.7 2437.1 L1308.4 2522.1 L1313.9 2544.1 L1319.9 2553.3 L1326.3 2533.5 L1332.3 2554.7 L1348.4 2565.2 L1371.3 2554.7 L1393.4 2565.2 L1409.5 2554.7 L1418.2 2565.2 L1418.2 2565.2 Z" fill="#0000ff" stroke="#000090" stroke-width="0.5" stroke-linejoin="miter"/>
<text x="146" y="2655.4" font-size="23.7" text-anchor="middle" fill="#000">GSM4249071</text>
<path d="M259.1 2581 H271 V2719.1 H259.1" fill="none" stroke="#4a4a4a" stroke-width="1.1"/>
<text x="252" y="2584.3" font-size="12.2" text-anchor="end" fill="#000">5</text>
<text x="252" y="2722.4" font-size="12.2" text-anchor="end" fill="#000">0</text>
<path d="M303.7 2719.1 L303.7 2719.1 L338.6 2672.8 L341.8 2626.9 L345 2672.8 L382.2 2719.1 L422.2 2626.9 L455.7 2719.1 L491.1 2672.8 L497.1 2719.1 L505.8 2626.9 L509.5 2672.8 L519.6 2719.1 L531.5 2672.8 L538.4 2719.1 L545.3 2672.8 L566 2719.1 L586.6 2672.8 L596.7 2719.1 L610.5 2672.8 L634.4 2719.1 L654.6 2672.8 L689 2719.1 L723.5 2672.8 L742.8 2719.1 L761.6 2672.8 L766.2 2719.1 L778.6 2626.9 L797 2719.1 L816.3 2672.8 L823.2 2719.1 L830.1 2626.9 L855.3 2719.1 L881.1 2672.8 L893.5 2719.1 L904 2672.8 L907.2 2626.9 L910.9 2672.8 L914.1 2719.1 L919.2 2672.8 L925.6 2719.1 L932.5 2672.8 L944 2719.1 L956.9 2672.8 L972.9 2719.1 L987.6 2672.8 L1001.4 2719.1 L1015.2 2672.8 L1019.8 2719.1 L1024.4 2626.9 L1027.6 2581 L1030.4 2626.9 L1036 2662.3 L1044.3 2719.1 L1059.9 2672.8 L1068.2 2719.1 L1076.4 2672.8 L1116.4 2719.1 L1155.4 2626.9 L1176.1 2719.1 L1196.8 2672.8 L1206 2719.1 L1213.8 2672.8 L1219.7 2719.1 L1227.6 2672.8 L1260.2 2719.1 L1293.2 2672.8 L1301.5 2719.1 L1310.2 2672.8 L1323.1 2719.1 L1337.8 2672.8 L1343.8 2719.1 L1350.7 2672.8 L1388.8 2719.1 L1388.8 2719.1 Z" fill="#0000ff" stroke="#000090" stroke-width="0.5" stroke-linejoin="miter"/>
<text x="146" y="2809.3" font-size="23.7" text-anchor="middle" fill="#000">GSM4249070</text>
<path d="M259.1 2734.9 H271 V2873 H259.1" fill="none" stroke="#4a4a4a" stroke-width="1.1"/>
<text x="252" y="2738.2" font-size="12.2" text-anchor="end" fill="#000">24</text>
<text x="252" y="2876.3" font-size="12.2" text-anchor="end" fill="#000">0</text>
<path d="M272.9 2873 L272.9 2873 L277.5 2864.5 L291.3 2873 L306 2864.5 L311.9 2873 L318.8 2864.5 L325.7 2873 L331.2 2862.2 L334.9 2847.1 L339.5 2855.8 L347.8 2873 L355.6 2855.8 L360.2 2862.2 L364.8 2855.8 L371.7 2862.2 L383.1 2873 L390 2862.2 L393.7 2855.8 L398.3 2864.5 L405.2 2873 L415.3 2864.5 L419.9 2873 L426.8 2855.8 L435 2873 L442.9 2864.5 L450.7 2873 L461.2 2855.8 L466.7 2873 L473.6 2864.5 L491.1 2873 L507.2 2864.5 L518.7 2873 L528.8 2864.5 L533.8 2855.8 L540.7 2873 L547.1 2862.2 L550.8 2847.1 L558.6 2873 L577 2855.8 L592.1 2873 L608.2 2864.5 L619.7 2855.8 L626.6 2847.1 L635.8 2862.2 L642.7 2855.8 L649.6 2873 L655.5 2864.5 L660.1 2873 L666.1 2864.5 L683.1 2873 L702.8 2864.5 L725.8 2873 L744.2 2864.5 L753.4 2873 L761.6 2864.5 L783.2 2873 L806.2 2855.8 L820 2873 L833.7 2864.5 L842 2873 L850.7 2855.8 L868.2 2873 L882 2864.5 L888 2855.8 L895.8 2864.5 L903.6 2855.8 L911.8 2863.6 L917.3 2855.8 L924.2 2838.3 L931.1 2862.2 L938 2847.1 L948.6 2873 L967 2855.8 L980.7 2873 L995.4 2864.5 L1003.7 2873 L1011.5 2864.5 L1021.2 2873 L1031.3 2862.2 L1040.6 2847.1 L1047.5 2873 L1053 2864.5 L1057.6 2873 L1062.6 2864.5 L1095.7 2873 L1127.9 2864.5 L1138 2873 L1148.5 2864.5 L1160 2873 L1172.9 2864.5 L1179.8 2873 L1186.2 2864.5 L1195.4 2873 L1203.7 2864.5 L1229.9 2873 L1258.8 2864.5 L1265.7 2855.8 L1270.3 2847.1 L1275.8 2855.8 L1285 2838.3 L1294.2 2862.2 L1297.8 2827.8 L1301.5 2742.8 L1304.7 2735 L1308.4 2793.3 L1311.6 2855.8 L1318.5 2873 L1327.7 2864.5 L1335.5 2855.8 L1342.9 2864.5 L1361.2 2873 L1378.2 2864.5 L1384.2 2873 L1392 2855.8 L1402.6 2873 L1413.6 2864.5 L1421.9 2873 L1421.9 2873 Z" fill="#0000ff" stroke="#000090" stroke-width="0.5" stroke-linejoin="miter"/>
<text x="146" y="2963.2" font-size="23.7" text-anchor="middle" fill="#000">GSM4249069</text>
<path d="M259.1 2888.8 H271 V3026.9 H259.1" fill="none" stroke="#4a4a4a" stroke-width="1.1"/>
<text x="252" y="2892.1" font-size="12.2" text-anchor="end" fill="#000">6</text>
<text x="252" y="3030.2" font-size="12.2" text-anchor="end" fill="#000">0</text>
<path d="M282.1 3026.9 L282.1 3026.9 L295.9 2999.7 L322 3026.9 L351 2999.7 L358.8 3026.9 L370.7 2999.7 L384.5 3026.9 L392.3 2999.7 L398.3 2971.7 L408.4 3026.9 L415.3 2999.7 L420.8 3026.9 L423.6 2999.7 L427.2 2944.1 L432.3 2993.2 L437.3 2944.1 L441.5 2971.7 L466.7 3026.9 L494.3 2999.7 L508.1 3026.9 L521.9 2999.7 L528.8 3026.9 L534.7 2999.7 L545.3 3026.9 L559.1 2999.7 L572.9 3026.9 L583 2971.7 L598.1 3026.9 L612.8 2999.7 L617.4 2971.7 L631.2 3026.9 L639 2999.7 L643.6 2944.1 L649.6 3026.9 L655.5 2999.7 L666.1 3026.9 L675.7 2999.7 L684.5 3026.9 L690.4 2999.7 L694.6 2971.7 L705.1 2997.8 L714.3 2971.7 L718.9 2944.1 L727.2 2995.5 L735 2971.7 L741.9 2999.7 L759.3 3026.9 L773.1 2999.7 L777.2 2971.7 L780 2999.7 L790.1 3026.9 L800.7 2999.7 L807.6 2971.7 L814.5 2999.7 L818.6 3026.9 L823.2 2999.7 L833.7 3026.9 L839.7 2999.7 L843.4 2944.1 L847.5 2999.7 L849.8 3026.9 L853.5 2999.7 L859 3026.9 L863.6 2999.7 L882 3026.9 L899.4 2999.7 L903.6 3026.9 L908.6 2999.7 L914.1 3026.9 L921 2971.7 L934.8 3026.9 L939.4 2999.7 L948.6 3026.9 L954.6 2999.7 L958.7 2971.7 L966 3026.9 L970.6 2999.7 L975.2 3026.9 L980.7 2999.7 L992.2 3026.9 L1002.8 2999.7 L1007.4 3026.9 L1012 2999.7 L1021.2 3026.9 L1029 2999.7 L1036 3002.4 L1102.6 3026.9 L1174.7 2999.7 L1177.5 2971.7 L1182.1 2995.5 L1186.7 2971.7 L1191.3 2999.7 L1208.3 3026.9 L1227.6 2999.7 L1232.6 3026.9 L1238.1 2999.7 L1256.5 3026.9 L1274.9 2999.7 L1286.4 3026.9 L1295.5 2999.7 L1302.4 2944.1 L1307.9 2971.7 L1311.6 2988.7 L1314.8 2915.2 L1318 2889 L1321.7 2944.1 L1326.3 2999.7 L1335.5 3026.9 L1347.4 2971.7 L1353.9 2999.7 L1385.1 3026.9 L1416.4 2999.7 L1421.9 3026.9 L1421.9 3026.9 Z" fill="#0000ff" stroke="#000090" stroke-width="0.5" stroke-linejoin="miter"/>
<text x="146" y="3117.1" font-size="23.7" text-anchor="middle" fill="#000">GSM4249068</text>
<path d="M259.1 3042.7 H271 V3180.8 H259.1" fill="none" stroke="#4a4a4a" stroke-width="1.1"/>
<text x="252" y="3046" font-size="12.2" text-anchor="end" fill="#000">24</text>
<text x="252" y="3184.1" font-size="12.2" text-anchor="end" fill="#000">0</text>
<path d="M272.9 3180.8 L272.9 3180.8 L277.5 3170.2 L294.5 3180.8 L311.9 3170.2 L325.7 3180.8 L343.2 3170.2 L369.4 3180.8 L390.9 3170.2 L402.9 3180.8 L415.3 3159.7 L419.9 3167.9 L423.6 3159.7 L428.2 3167.9 L433.7 3159.7 L438.3 3170.2 L452 3180.8 L470.4 3170.2 L527.8 3180.8 L586.6 3170.2 L595.8 3180.8 L603.6 3170.2 L608.2 3180.8 L617.4 3170.2 L639 3180.8 L658.3 3170.2 L677.6 3180.8 L695 3159.7 L698.2 3149.5 L701.9 3170.2 L712 3180.8 L723.5 3170.2 L741 3180.8 L758 3170.2 L764.8 3180.8 L771.7 3170.2 L786.9 3180.8 L803 3170.2 L825.9 3180.8 L848.9 3170.2 L852.1 3159.7 L855.8 3170.2 L871.4 3180.8 L888.9 3170.2 L893.5 3180.8 L900.4 3117.4 L903.6 3147.2 L914.1 3180.8 L925.6 3159.7 L934.8 3180.8 L942.6 3170.2 L947.7 3180.8 L960.1 3159.7 L1006 3180.8 L1053 3159.7 L1107.2 3180.8 L1162.3 3170.2 L1215.2 3180.8 L1269.4 3170.2 L1277.2 3180.8 L1285.4 3170.2 L1289.6 3119.7 L1294.2 3073.7 L1298.8 3138.1 L1301.5 3092.1 L1304.7 3043 L1308.4 3124.3 L1311.6 3147.2 L1314.8 3138.1 L1320.8 3158.7 L1329.1 3170.2 L1334.6 3159.7 L1339.2 3148.6 L1347.4 3180.8 L1357.6 3159.7 L1363.1 3148.6 L1367.7 3170.2 L1395.7 3180.8 L1395.7 3180.8 Z" fill="#0000ff" stroke="#000090" stroke-width="0.5" stroke-linejoin="miter"/>
<text x="146" y="3271" font-size="23.7" text-anchor="middle" fill="#000">GSM4249097</text>
<path d="M259.1 3196.6 H271 V3334.7 H259.1" fill="none" stroke="#4a4a4a" stroke-width="1.1"/>
<text x="252" y="3199.9" font-size="12.2" text-anchor="end" fill="#000">151</text>
<text x="252" y="3338" font-size="12.2" text-anchor="end" fill="#000">0</text>
<path d="M271.5 3334.7 L271.5 3334.7 L271.5 3334.7 L289 3332.9 L300.5 3333.4 L311.9 3334.7 L325.7 3334.7 L344.1 3332.5 L357.9 3333.4 L380.8 3332.5 L387.7 3334.7 L399.2 3332 L408.4 3331.6 L415.3 3327 L420.8 3323.3 L426.8 3327.9 L432.3 3330.2 L438.3 3330.6 L445.2 3333.4 L463.5 3332.9 L481.9 3334.7 L504.9 3334.7 L532.4 3332.9 L546.2 3334.7 L560 3332.9 L578.4 3334.7 L596.7 3332.5 L612.8 3331.6 L628.9 3332.9 L650 3332.9 L668.4 3333.4 L686.7 3334.7 L705.1 3333.4 L723.5 3334.7 L755.7 3332 L769.4 3334.7 L783.2 3332.9 L806.2 3334.7 L824.6 3332.9 L833.7 3330.6 L842.9 3332.5 L861.3 3334.7 L879.7 3334.7 L893.5 3332.9 L898.1 3324.2 L908.6 3309.5 L916.4 3326.5 L921 3332 L935.7 3331.1 L944 3333.4 L967 3331.1 L976.1 3330.6 L985.3 3333.4 L1003.7 3332.5 L1017.5 3334.7 L1029 3332.5 L1036 3333.4 L1059 3332.9 L1081.9 3331.6 L1095.7 3333.4 L1118.7 3332.5 L1141.7 3332.9 L1164.6 3334.7 L1187.6 3332.9 L1219.7 3332 L1242.7 3332 L1256.5 3334.7 L1274.9 3332 L1286.4 3330.2 L1293.2 3326.5 L1297.8 3319.6 L1301.5 3301.2 L1305.6 3295.3 L1309.3 3299 L1312.5 3314.1 L1317.1 3319.6 L1320.8 3325.1 L1324.5 3323.3 L1332.3 3311.4 L1336.9 3314.1 L1341.5 3312.7 L1347.4 3317.3 L1350.7 3321 L1356.2 3323.3 L1361.2 3315 L1365.8 3273.7 L1370 3218.6 L1376.8 3197 L1381.4 3236.9 L1385.1 3255.3 L1387.4 3256.2 L1390.6 3280.6 L1396.6 3276 L1403.5 3253 L1408.1 3282.9 L1415 3303.5 L1419.6 3315 L1423.2 3319.6 L1423.2 3334.7 Z" fill="#0000ff" stroke="#000090" stroke-width="0.5" stroke-linejoin="miter"/>
<text x="146" y="3424.9" font-size="23.7" text-anchor="middle" fill="#000">GSM4249096</text>
<path d="M259.1 3350.5 H271 V3488.6 H259.1" fill="none" stroke="#4a4a4a" stroke-width="1.1"/>
<text x="252" y="3353.8" font-size="12.2" text-anchor="end" fill="#000">84</text>
<text x="252" y="3491.9" font-size="12.2" text-anchor="end" fill="#000">0</text>
<path d="M272.4 3488.6 L272.4 3488.6 L279.8 3486.4 L289 3485 L298.2 3486.9 L309.6 3485.5 L321.1 3486.4 L328 3488.6 L339.5 3485.5 L351 3484.1 L357.9 3486.9 L364.8 3484.6 L375.3 3481.8 L380.8 3486.4 L387.7 3487.3 L394.6 3485.9 L403.8 3488.6 L419.9 3485 L426.8 3487.3 L436 3487.3 L449.7 3488.6 L468.1 3486.9 L486.5 3488.6 L504.9 3486.9 L517.7 3488.6 L525.5 3486.4 L537 3488.6 L555.4 3485.9 L570.1 3483.2 L578.4 3486.9 L587.6 3485 L605.9 3488.6 L624.3 3486.9 L642.7 3488.6 L650 3488.6 L660.1 3482.7 L670.7 3486.9 L686.7 3488.6 L700.5 3485.9 L714.3 3484.1 L723.5 3487.3 L739.6 3486.4 L752 3481.8 L762.5 3486.9 L776.3 3485 L787.8 3487.3 L801.6 3488.6 L820 3487.3 L829.2 3481.8 L839.3 3479.1 L845.2 3481.8 L849.8 3488.6 L861.3 3488.6 L872.8 3486.4 L878.8 3488.6 L885.2 3483.6 L891.2 3485.5 L895.8 3485.5 L900.4 3481.8 L904.9 3480.9 L910.5 3467.1 L915.5 3477.2 L918.7 3488.6 L934.8 3486.9 L948.6 3487.3 L961.4 3484.1 L967 3486.4 L976.1 3482.7 L983 3485.5 L989.9 3484.1 L996.8 3485.9 L1003.7 3484.6 L1012.9 3487.3 L1024.4 3484.6 L1036 3487.3 L1042.9 3488.6 L1049.8 3483.2 L1056.7 3481.8 L1064.5 3479.5 L1070.5 3482.7 L1078.3 3481.8 L1085.6 3487.3 L1100.3 3485.9 L1109.5 3484.6 L1116.4 3486.4 L1124.2 3482.7 L1132.5 3486.4 L1144 3485 L1155.4 3486.4 L1169.2 3487.3 L1183 3485 L1194.5 3484.6 L1210.6 3486.4 L1228.9 3485.9 L1247.3 3484.6 L1256.5 3486.4 L1274.9 3487.3 L1284.1 3485.5 L1290.9 3483.2 L1298.8 3479.5 L1304.7 3474.9 L1311.6 3484.1 L1325.4 3487.3 L1339.2 3483.2 L1348.4 3480.9 L1355.3 3472.6 L1362.1 3449.7 L1366.7 3412.9 L1370 3378.5 L1373.6 3373.9 L1376.8 3350 L1380.5 3380.7 L1384.2 3401.4 L1387.4 3393.6 L1390.6 3419.8 L1394.3 3413.8 L1397.5 3417.5 L1401.2 3407.4 L1404.4 3412.9 L1408.1 3445.1 L1413.6 3472.6 L1419.6 3474.9 L1423.2 3478.6 L1423.2 3488.6 Z" fill="#0000ff" stroke="#000090" stroke-width="0.5" stroke-linejoin="miter"/>
<text x="146" y="3578.8" font-size="23.7" text-anchor="middle" fill="#000">GSM4249095</text>
<path d="M259.1 3504.4 H271 V3642.5 H259.1" fill="none" stroke="#4a4a4a" stroke-width="1.1"/>
<text x="252" y="3507.7" font-size="12.2" text-anchor="end" fill="#000">71</text>
<text x="252" y="3645.8" font-size="12.2" text-anchor="end" fill="#000">0</text>
<path d="M271.5 3642.5 L271.5 3642.5 L277.5 3640.4 L289 3641.3 L300.5 3639.5 L310.6 3636.7 L318.8 3640.4 L330.3 3640.4 L337.2 3641.3 L346.4 3639.5 L353.3 3638.6 L360.2 3640.4 L369.4 3634.9 L378.5 3640.4 L386.4 3637.2 L396.9 3642.5 L406.1 3635.8 L413 3631.2 L416.7 3608.2 L420.3 3586.7 L424.5 3589.9 L427.7 3619.7 L431.4 3622.9 L435 3620.2 L439.6 3624.3 L442.9 3633.5 L447.4 3639.5 L458.9 3641.3 L472.7 3640.4 L481.9 3642.5 L495.7 3640.9 L518.7 3639.5 L532.4 3642.5 L557.7 3638.1 L573.8 3641.3 L586.2 3638.6 L592.1 3642.5 L615.1 3639.5 L628.9 3641.3 L635.8 3639.5 L640.4 3641.3 L645 3639.5 L650 3641.3 L663.8 3639.5 L677.6 3640.4 L695.9 3642.5 L709.7 3640.4 L718 3639.5 L732.7 3641.3 L745.5 3636.7 L756.6 3639.5 L764.8 3642.5 L787.8 3639.5 L799.3 3642.5 L808.5 3640.4 L824.6 3641.3 L831.4 3637.2 L837.4 3636.7 L842 3631.2 L846.6 3632.6 L851.2 3638.1 L861.3 3640.4 L875.1 3640.4 L884.3 3641.3 L891.2 3639.5 L898.1 3633.5 L902.7 3631.2 L906.3 3622 L910.5 3617.4 L915.1 3622.9 L918.7 3633.5 L923.3 3638.1 L927.9 3639.5 L932.5 3634.4 L937.1 3631.7 L941.7 3634.9 L946.3 3633.5 L953.2 3636.7 L963.3 3635.3 L971.6 3638.1 L980.7 3641.3 L992.2 3640.4 L1003.7 3638.1 L1012.9 3635.8 L1022.1 3639.5 L1036 3639.5 L1045.2 3636.7 L1054.4 3633.5 L1061.3 3637.2 L1072.7 3637.6 L1081.9 3640.4 L1093.4 3638.6 L1109.5 3637.2 L1121 3638.6 L1129.3 3635.3 L1137.1 3639 L1146.2 3641.3 L1160 3638.6 L1173.8 3639 L1189.9 3638.1 L1201.4 3640.9 L1212.9 3639.5 L1228.9 3639.9 L1238.1 3638.1 L1247.3 3640.4 L1261.1 3638.1 L1270.3 3638.1 L1279.5 3640.4 L1288.7 3640.4 L1296.9 3635.8 L1301.5 3622 L1305.6 3616.5 L1309.3 3621.1 L1313 3631.2 L1318.5 3634 L1323.1 3632.6 L1327.7 3631.2 L1332.3 3617.4 L1336 3611.9 L1340.1 3618.4 L1343.8 3626.6 L1348.4 3628.9 L1355.3 3631.2 L1362.1 3622 L1366.7 3585.3 L1370 3539.3 L1376.8 3504 L1381.4 3543.9 L1384.2 3560 L1387.4 3556.8 L1392 3578.4 L1396.6 3580.7 L1403.5 3578.4 L1408.1 3612.8 L1413.6 3625.7 L1419.6 3630.3 L1423.2 3632.1 L1423.2 3642.5 Z" fill="#0000ff" stroke="#000090" stroke-width="0.5" stroke-linejoin="miter"/>
<text x="146" y="3732.7" font-size="23.7" text-anchor="middle" fill="#000">GSM4249094</text>
<path d="M259.1 3658.3 H271 V3796.4 H259.1" fill="none" stroke="#4a4a4a" stroke-width="1.1"/>
<text x="252" y="3661.6" font-size="12.2" text-anchor="end" fill="#000">64</text>
<text x="252" y="3799.7" font-size="12.2" text-anchor="end" fill="#000">0</text>
<path d="M271.5 3796.4 L271.5 3796.4 L271.5 3792.6 L277.5 3794.4 L289 3792.1 L298.2 3793.9 L311.9 3793 L321.1 3794.9 L334.9 3792.1 L344.1 3794.4 L353.3 3796.4 L362.5 3793.5 L369.4 3794.4 L380.8 3791.6 L392.3 3793.5 L403.8 3795.3 L410.7 3792.1 L415.3 3782.9 L420.8 3778.8 L426.8 3786.1 L433.7 3785.2 L438.3 3788.9 L442.9 3794.4 L458.9 3794.4 L472.7 3796.4 L491.1 3794.9 L504.9 3796.4 L518.7 3793.9 L532.4 3795.3 L553.1 3790.7 L562.3 3794.9 L578.4 3794.4 L592.1 3793.5 L608.2 3792.6 L619.7 3793.9 L633.5 3794.9 L650 3794.4 L651.9 3793.5 L663.8 3794.4 L677.6 3794.9 L695.9 3795.3 L709.7 3794.4 L728.1 3795.3 L748.8 3793.5 L759.3 3792.6 L767.1 3795.3 L783.2 3791.6 L797 3794.4 L810.8 3793.9 L823.6 3791.2 L831.4 3791.6 L842 3787.5 L852.1 3794.4 L865.9 3794.9 L882 3793.5 L891.2 3791.2 L898.1 3787.5 L901.7 3780.6 L906.3 3777.4 L910.9 3782.9 L918.7 3789.8 L925.6 3792.1 L934.8 3789.8 L944 3793 L953.2 3793.9 L967 3789.8 L971.6 3791.2 L975.2 3788.9 L980.7 3794.4 L992.2 3793 L1003.7 3792.1 L1017.5 3793.5 L1031.3 3790.7 L1036 3789.8 L1044.3 3788.9 L1049.8 3791.2 L1058 3794.4 L1065.9 3791.2 L1077.3 3793 L1086.5 3791.2 L1100.3 3792.1 L1109.5 3789.8 L1121 3789.8 L1127.9 3792.6 L1134.8 3790.3 L1141.7 3793.5 L1153.1 3791.2 L1166.9 3791.2 L1176.1 3795.3 L1192.2 3794.4 L1201.4 3792.1 L1210.6 3787.5 L1217.4 3788.9 L1226.6 3790.7 L1238.1 3792.1 L1247.3 3792.6 L1261.1 3791.6 L1268 3794.4 L1277.2 3793 L1286.4 3791.6 L1293.2 3787.5 L1297.8 3769.1 L1304.7 3756.7 L1309.3 3763.2 L1313 3776 L1320.8 3782.9 L1327.7 3778.3 L1332.3 3771.4 L1336.9 3776.9 L1346.1 3776 L1353 3776.9 L1359.9 3766.8 L1365.8 3748.5 L1370 3695.6 L1376.8 3658 L1382.8 3714 L1387.4 3700.2 L1392 3716.3 L1398.9 3721.8 L1403.5 3720 L1408.1 3748.5 L1413.6 3773.7 L1418.2 3782.9 L1421.9 3784.3 L1421.9 3796.4 Z" fill="#0000ff" stroke="#000090" stroke-width="0.5" stroke-linejoin="miter"/>
<text x="146" y="3886.6" font-size="23.7" text-anchor="middle" fill="#000">GSM4249093</text>
<path d="M259.1 3812.2 H271 V3950.3 H259.1" fill="none" stroke="#4a4a4a" stroke-width="1.1"/>
<text x="252" y="3815.5" font-size="12.2" text-anchor="end" fill="#000">32</text>
<text x="252" y="3953.6" font-size="12.2" text-anchor="end" fill="#000">0</text>
<path d="M271.5 3950.3 L271.5 3950.3 L277.5 3942.9 L286.7 3941.1 L291.3 3944.7 L295.9 3943.8 L300.5 3936.9 L305 3940.1 L311.9 3945.2 L321.1 3940.1 L325.7 3946.6 L330.3 3939.2 L334.9 3930 L338.6 3931.4 L341.8 3929.1 L347.8 3928.7 L354.7 3923.1 L362.5 3927.7 L364.8 3940.1 L369.4 3939.2 L373 3936 L377.2 3940.1 L383.1 3942.9 L390.9 3949.3 L401.5 3946.6 L410.7 3939.2 L416.7 3932.8 L423.6 3929.1 L429.1 3936.9 L436 3942.9 L444.2 3950.3 L449.7 3947.5 L456.6 3949.3 L468.1 3947.5 L477.3 3947.9 L491.1 3942.4 L498 3948.4 L509.5 3945.2 L516.4 3946.1 L523.2 3944.7 L532.4 3948.4 L539.3 3944.7 L546.2 3945.2 L550.8 3936.9 L556.3 3932.3 L561.4 3934.6 L564.6 3942.4 L571.5 3940.6 L578.4 3948.4 L585.3 3944.7 L589.9 3936.9 L595.8 3936 L602.7 3946.1 L608.2 3942.4 L612.8 3939.2 L617.4 3940.1 L622 3948.4 L633.5 3940.6 L640.4 3942 L649.6 3947.5 L650 3948.4 L656.9 3941.5 L666.1 3933.7 L675.3 3944.7 L686.7 3948.9 L691.3 3945.2 L697.3 3937.8 L707.4 3940.6 L712.9 3945.2 L718.9 3942.4 L722.6 3943.8 L725.8 3940.6 L730.4 3942.9 L732.7 3949.3 L739.6 3945.2 L751.1 3941.5 L758 3937.8 L763.9 3940.6 L768.5 3947.5 L774 3944.7 L778.6 3938.3 L784.1 3939.2 L789.2 3932.8 L794.7 3942.4 L801.6 3946.1 L805.3 3943.8 L810.8 3947.5 L819 3944.7 L824.6 3934.6 L829.2 3936 L834.7 3940.6 L840.6 3934.6 L846.6 3939.2 L852.1 3947 L859 3948.4 L868.2 3940.1 L876 3947 L884.3 3942.9 L888.9 3935.5 L895.8 3936.9 L899.4 3928.2 L902.7 3932.3 L907.2 3926.8 L911.8 3929.1 L916.4 3936 L921.9 3945.2 L929.3 3942 L935.7 3934.6 L940.3 3933.7 L946.3 3939.2 L953.2 3942.9 L960.1 3940.1 L967 3932.3 L975.2 3940.6 L979.8 3935.5 L984.4 3936.9 L987.6 3941.5 L993.1 3930 L999.1 3946.1 L1003.7 3944.7 L1008.3 3930 L1013.8 3936 L1021.2 3932.3 L1024.4 3934.6 L1032.2 3928.2 L1036 3933.7 L1041.5 3938.3 L1047.5 3945.2 L1052.1 3930.9 L1056.7 3921.8 L1061.3 3920.8 L1065.9 3919.9 L1070.5 3924.5 L1075 3935.5 L1079.6 3924.5 L1083.3 3923.6 L1087.4 3929.1 L1092 3925.4 L1095.7 3934.6 L1100.3 3930.9 L1105.8 3936.9 L1110.4 3930 L1116.4 3933.7 L1121 3936 L1125.6 3929.1 L1132.5 3927.7 L1137.1 3932.3 L1142.6 3940.6 L1147.2 3936.9 L1153.1 3940.1 L1156.4 3936.9 L1160.9 3940.6 L1164.6 3932.3 L1169.2 3930.9 L1172.4 3941.5 L1178.4 3935.5 L1183 3932.3 L1189.9 3936.9 L1194.5 3934.6 L1197.7 3940.6 L1206 3938.3 L1212.9 3934.6 L1216.5 3929.1 L1220.7 3928.2 L1224.3 3937.8 L1228.9 3939.2 L1234.4 3943.8 L1240.4 3938.3 L1247.3 3933.2 L1251.9 3941.5 L1256.5 3944.7 L1261.1 3939.2 L1265.7 3927.7 L1270.3 3933.7 L1274.9 3936.9 L1279.5 3942.9 L1286.4 3939.2 L1290.9 3940.1 L1296.9 3936.9 L1301.5 3914 L1305.6 3909.4 L1309.3 3918.5 L1312.5 3936 L1318.5 3933.7 L1324.5 3936 L1330 3934.6 L1336.9 3939.2 L1341.5 3938.3 L1346.1 3932.3 L1350.7 3934.6 L1353.9 3941.5 L1359.9 3927.7 L1366.7 3909.4 L1370.4 3865.7 L1376.8 3812 L1381.4 3838.2 L1385.1 3863.4 L1387.4 3864.3 L1390.6 3874.9 L1397.5 3853.3 L1401.2 3855.6 L1404.4 3870.3 L1408.1 3916.2 L1411.8 3924.5 L1417.3 3924.5 L1423.2 3934.6 L1423.2 3950.3 Z" fill="#0000ff" stroke="#000090" stroke-width="0.5" stroke-linejoin="miter"/>
<line x1="283.9" y1="4116.5" x2="1373" y2="4116.5" stroke="#3a3a3a" stroke-width="1.1"/>
<path d="M308.8 4106.8 L299.2 4116.5 L308.8 4126.2" fill="none" stroke="#3a3a3a" stroke-width="1.1"/>
<path d="M346.7 4106.8 L337.1 4116.5 L346.7 4126.2" fill="none" stroke="#3a3a3a" stroke-width="1.1"/>
<path d="M384.6 4106.8 L375 4116.5 L384.6 4126.2" fill="none" stroke="#3a3a3a" stroke-width="1.1"/>
<path d="M422.5 4106.8 L412.9 4116.5 L422.5 4126.2" fill="none" stroke="#3a3a3a" stroke-width="1.1"/>
<path d="M460.4 4106.8 L450.8 4116.5 L460.4 4126.2" fill="none" stroke="#3a3a3a" stroke-width="1.1"/>
<path d="M498.3 4106.8 L488.7 4116.5 L498.3 4126.2" fill="none" stroke="#3a3a3a" stroke-width="1.1"/>
<path d="M536.2 4106.8 L526.6 4116.5 L536.2 4126.2" fill="none" stroke="#3a3a3a" stroke-width="1.1"/>
<path d="M574.1 4106.8 L564.5 4116.5 L574.1 4126.2" fill="none" stroke="#3a3a3a" stroke-width="1.1"/>
<path d="M612 4106.8 L602.4 4116.5 L612 4126.2" fill="none" stroke="#3a3a3a" stroke-width="1.1"/>
<path d="M649.9 4106.8 L640.3 4116.5 L649.9 4126.2" fill="none" stroke="#3a3a3a" stroke-width="1.1"/>
<path d="M687.8 4106.8 L678.2 4116.5 L687.8 4126.2" fill="none" stroke="#3a3a3a" stroke-width="1.1"/>
<path d="M725.7 4106.8 L716.1 4116.5 L725.7 4126.2" fill="none" stroke="#3a3a3a" stroke-width="1.1"/>
<path d="M763.6 4106.8 L754 4116.5 L763.6 4126.2" fill="none" stroke="#3a3a3a" stroke-width="1.1"/>
<path d="M801.5 4106.8 L791.9 4116.5 L801.5 4126.2" fill="none" stroke="#3a3a3a" stroke-width="1.1"/>
<path d="M839.4 4106.8 L829.8 4116.5 L839.4 4126.2" fill="none" stroke="#3a3a3a" stroke-width="1.1"/>
<path d="M1039.8 4106.8 L1030.2 4116.5 L1039.8 4126.2" fill="none" stroke="#3a3a3a" stroke-width="1.1"/>
<path d="M1139.3 4106.8 L1129.7 4116.5 L1139.3 4126.2" fill="none" stroke="#3a3a3a" stroke-width="1.1"/>
<path d="M1176.8 4106.8 L1167.2 4116.5 L1176.8 4126.2" fill="none" stroke="#3a3a3a" stroke-width="1.1"/>
<path d="M1214.7 4106.8 L1205.1 4116.5 L1214.7 4126.2" fill="none" stroke="#3a3a3a" stroke-width="1.1"/>
<path d="M1252.6 4106.8 L1243 4116.5 L1252.6 4126.2" fill="none" stroke="#3a3a3a" stroke-width="1.1"/>
<path d="M1291 4106.8 L1281.4 4116.5 L1291 4126.2" fill="none" stroke="#3a3a3a" stroke-width="1.1"/>
<path d="M1328.5 4106.8 L1318.9 4116.5 L1328.5 4126.2" fill="none" stroke="#3a3a3a" stroke-width="1.1"/>
<path d="M1361.6 4106.8 L1352 4116.5 L1361.6 4126.2" fill="none" stroke="#3a3a3a" stroke-width="1.1"/>
<rect x="271.2" y="4092.2" width="12.7" height="48.3" fill="#000"/>
<rect x="854.6" y="4092.2" width="163.9" height="48.3" fill="#000"/>
<rect x="1103" y="4092.2" width="18.9" height="48.3" fill="#000"/>
<rect x="1337.3" y="4092.2" width="3.9" height="48.3" fill="#000"/>
<rect x="1373" y="4092.2" width="30" height="48.3" fill="#000"/>
<rect x="279.2" y="4068.6" width="4.7" height="95.2" fill="#000"/>
<rect x="979.4" y="4068.6" width="39.1" height="95.2" fill="#000"/>
<rect x="1050" y="4068.6" width="5" height="95.2" fill="#000"/>
<rect x="1063.8" y="4068.6" width="12.3" height="95.2" fill="#000"/>
<rect x="1081" y="4068.6" width="16.8" height="95.2" fill="#000"/>
<rect x="1114.8" y="4068.6" width="7.1" height="95.2" fill="#000"/>
<rect x="1373" y="4068.6" width="29.1" height="95.2" fill="#000"/>
<text x="832.9" y="4062" font-size="35.7" text-anchor="middle" fill="#000">TRIM65</text>
<line x1="271" y1="4224.3" x2="1424" y2="4224.3" stroke="#4a4a4a" stroke-width="1.1"/>
<line x1="271" y1="4284.4" x2="1424" y2="4284.4" stroke="#4a4a4a" stroke-width="1.1"/>
<line x1="377.4" y1="4284.4" x2="377.4" y2="4315.2" stroke="#4a4a4a" stroke-width="1.1"/>
<line x1="514.5" y1="4284.4" x2="514.5" y2="4315.2" stroke="#4a4a4a" stroke-width="1.1"/>
<line x1="651.6" y1="4284.4" x2="651.6" y2="4315.2" stroke="#4a4a4a" stroke-width="1.1"/>
<line x1="788.7" y1="4284.4" x2="788.7" y2="4315.2" stroke="#4a4a4a" stroke-width="1.1"/>
<line x1="925.8" y1="4284.4" x2="925.8" y2="4315.2" stroke="#4a4a4a" stroke-width="1.1"/>
<line x1="1062.9" y1="4284.4" x2="1062.9" y2="4315.2" stroke="#4a4a4a" stroke-width="1.1"/>
<line x1="1200" y1="4284.4" x2="1200" y2="4315.2" stroke="#4a4a4a" stroke-width="1.1"/>
<line x1="1337.1" y1="4284.4" x2="1337.1" y2="4315.2" stroke="#4a4a4a" stroke-width="1.1"/>
<line x1="926" y1="4315.2" x2="926" y2="4362" stroke="#6a6a6a" stroke-width="1.1"/>
<text x="926.2" y="4378.1" font-size="23.8" text-anchor="middle" fill="#000">75.89Mb</text>
<text x="136" y="4272.1" font-size="49.2" text-anchor="middle" fill="#000">chr17</text>
</svg></body></html>
